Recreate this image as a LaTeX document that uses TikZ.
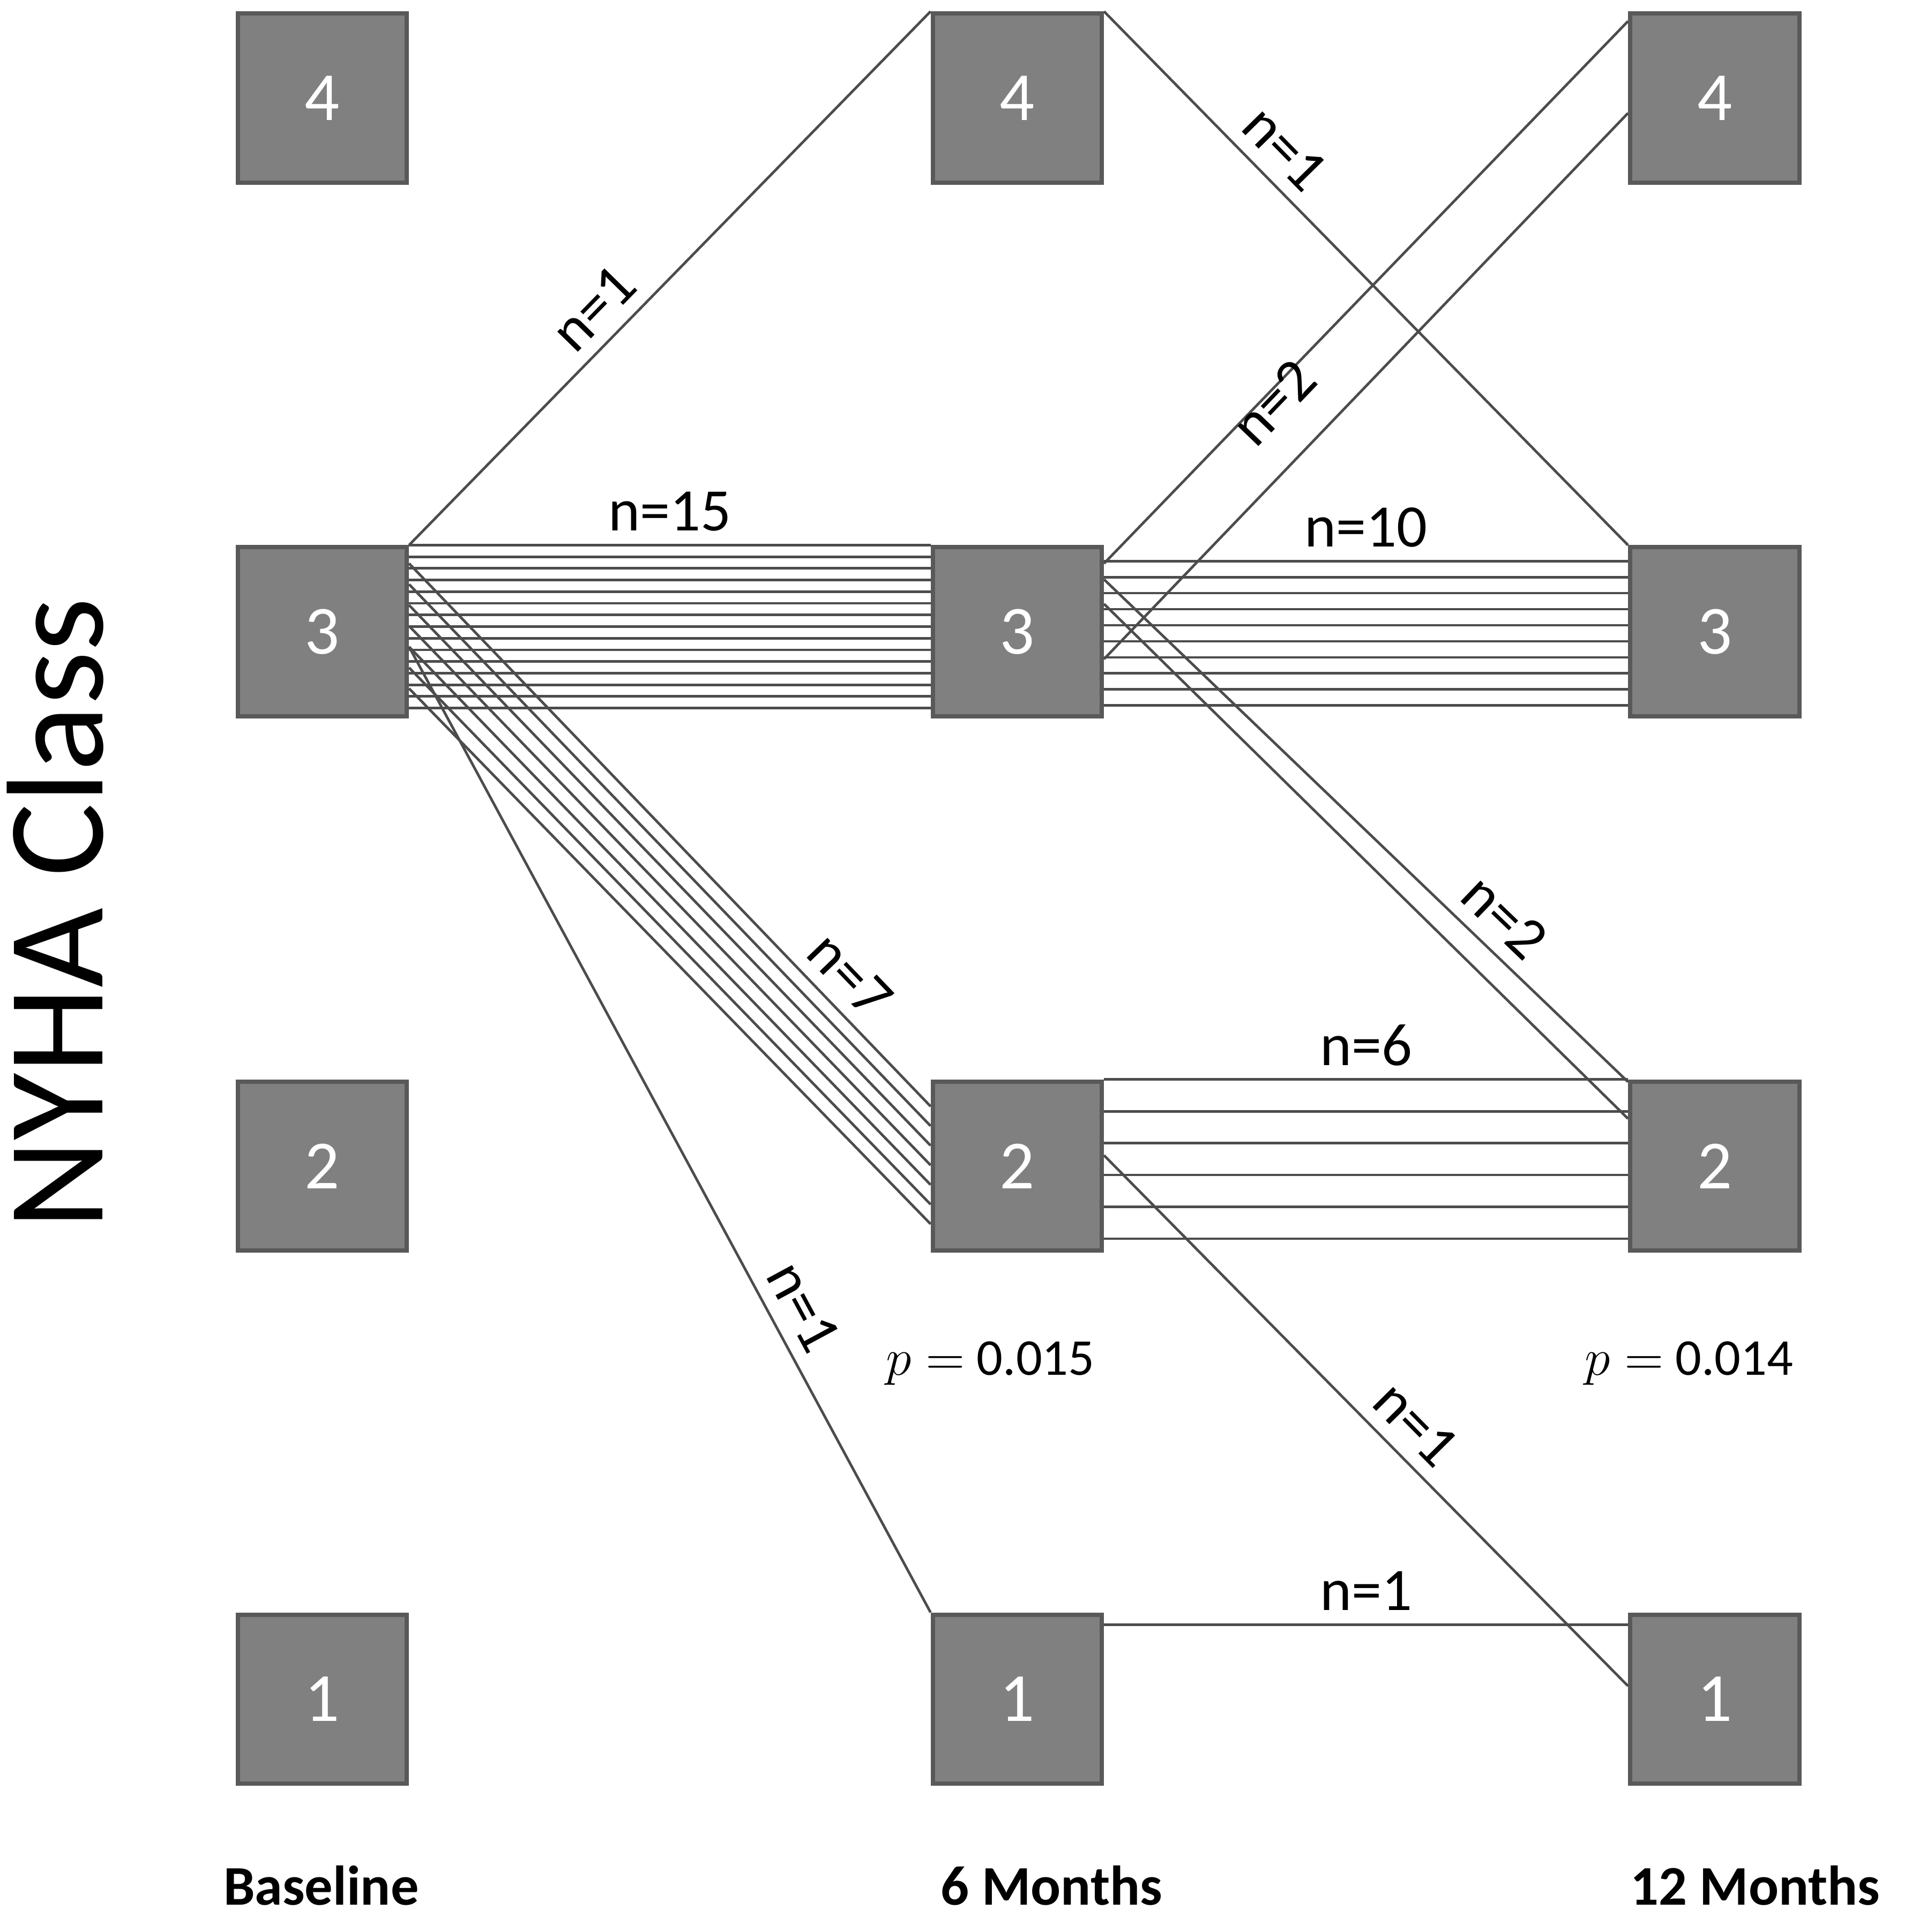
\documentclass[tikz,border=0pt]{standalone}
\usepackage{fontspec}
\setmainfont{Carlito}
\usepackage{tikz}

\begin{document}
\begin{tikzpicture}[
    box/.style={draw=black!65,line width=1pt,fill=black!50,minimum size=1.38cm,
        inner sep=0pt,text=white,font=\fontsize{16}{16}\selectfont},
    flow/.style={draw=black!70,line width=0.6pt},
    cnt/.style={font=\fontsize{14}{14}\selectfont,inner sep=3pt}
    ]
    \useasboundingbox (0,0) rectangle (15.6,15.766);
    \foreach \c/\x in {b/2.63, m/8.30, t/13.99}
    {
        \foreach \n/\y in {4/14.965, 3/10.61, 2/6.25, 1/1.90}
        {
            \node[box] (\c\n) at (\x,\y) {\n};
        }
    }
    % baseline to 6 months
    \draw[flow] (b3.north east) -- node[cnt,pos=0.4,sloped,above]{n=1} (m4.north west);
    \foreach \d in {0,0.095,...,1.34}
        \draw[flow] ([yshift=-\d cm]b3.north east) -- ([yshift=-\d cm]m3.north west);
    \path (b3.north east) -- node[cnt,above]{n=15} (m3.north west);
    \foreach \i in {0,...,6}
        \draw[flow] ([yshift=-0.15cm-\i*0.17cm]b3.north east) -- ([yshift=-0.22cm-\i*0.16cm]m2.north west);
    \path ([yshift=-0.15cm]b3.north east) -- node[cnt,pos=0.8,sloped,above]{n=7} ([yshift=-0.22cm]m2.north west);
    \draw[flow] ([yshift=-0.83cm]b3.north east) -- node[cnt,pos=0.7,sloped,above]{n=1} (m1.north west);
    % 6 months to 12 months
    \draw[flow] (m4.north east) -- node[cnt,pos=0.3,sloped,above]{n=1} (t3.north west);
    \draw[flow] ([yshift=-0.15cm]m3.north east) -- ([yshift=-0.08cm]t4.north west);
    \draw[flow] ([yshift=-0.93cm]m3.north east) -- node[cnt,pos=0.4,sloped,above=5pt]{n=2} ([yshift=-0.83cm]t4.north west);
    \foreach \d in {0.13,0.261,...,1.33}
        \draw[flow] ([yshift=-\d cm]m3.north east) -- ([yshift=-\d cm]t3.north west);
    \path ([yshift=-0.13cm]m3.north east) -- node[cnt,above]{n=10} ([yshift=-0.13cm]t3.north west);
    \draw[flow] ([yshift=-0.28cm]m3.north east) -- node[cnt,pos=0.72,sloped,above]{n=2} ([yshift=-0.02cm]t2.north west);
    \draw[flow] ([yshift=-0.48cm]m3.north east) -- ([yshift=-0.32cm]t2.north west);
    \foreach \d in {0,0.26,...,1.35}
        \draw[flow] ([yshift=-\d cm]m2.north east) -- ([yshift=-\d cm]t2.north west);
    \path (m2.north east) -- node[cnt,above]{n=6} (t2.north west);
    \draw[flow] ([yshift=-0.62cm]m2.north east) -- node[cnt,pos=0.55,sloped,above]{n=1} ([yshift=-0.6cm]t1.north west);
    \draw[flow] ([yshift=-0.1cm]m1.north east) -- node[cnt,above]{n=1} ([yshift=-0.1cm]t1.north west);
    % p values
    \node[font=\fontsize{12}{12}\selectfont] (p1) at (8.08,4.64) {$p = $ 0.015};
    \node[font=\fontsize{12}{12}\selectfont] (p2) at (13.78,4.64) {$p = $ 0.014};
    % axis texts
    \node[font=\bfseries\fontsize{13}{13}\selectfont] (lb) at (2.62,0.38) {Baseline};
    \node[font=\bfseries\fontsize{13}{13}\selectfont] (lm) at (8.58,0.38) {6 Months};
    \node[font=\bfseries\fontsize{13}{13}\selectfont] (lt) at (14.32,0.38) {12 Months};
    \node[rotate=90,font=\fontsize{32}{32}\selectfont] (ax) at (0.45,8.31) {NYHA Class};
\end{tikzpicture}
\end{document}
